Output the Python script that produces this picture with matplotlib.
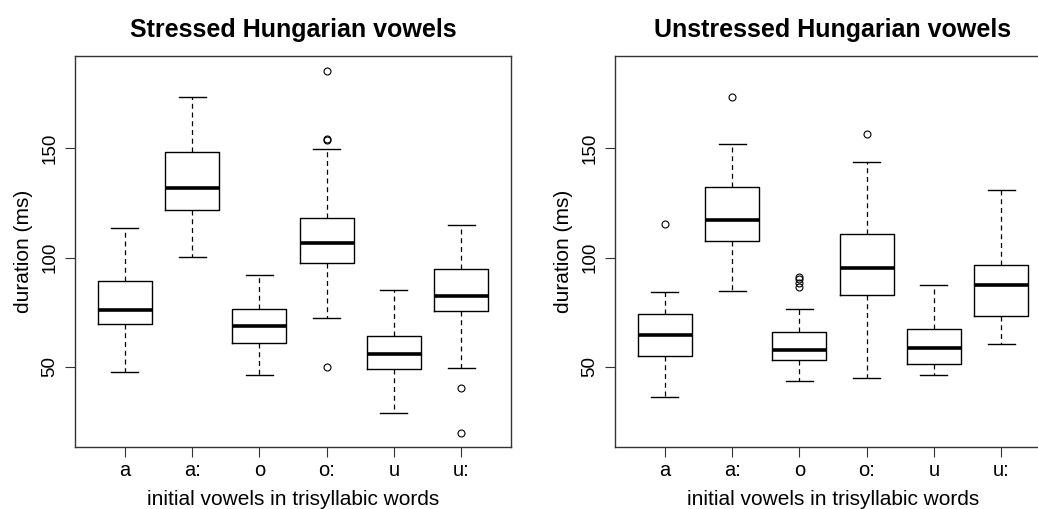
import matplotlib
matplotlib.use("Agg")
import matplotlib.pyplot as plt

plt.rcParams['font.family'] = ['Liberation Sans', 'DejaVu Sans']

vowels = ['a', 'a:', 'o', 'o:', 'u', 'u:']

# stressed: whislo, q1, median, q3, whishi
st_lo  = [47.4, 100.1, 46.0, 72.3, 28.6, 49.2]
st_q1  = [69.5, 121.8, 61.0, 97.6, 48.8, 75.6]
st_med = [76.1, 131.8, 68.6, 106.5, 55.6, 82.2]
st_q3  = [89.1, 148.3, 76.6, 118.2, 64.0, 94.9]
st_hi  = [113.7, 173.7, 92.1, 149.5, 85.3, 114.9]
st_out = [[], [], [], [185.3, 154.5, 154.0, 50.0], [], [40.4, 19.8]]

# unstressed
un_lo  = [36.3, 84.8, 43.3, 44.7, 46.3, 60.5]
un_q1  = [54.9, 107.4, 52.9, 82.7, 51.4, 73.2]
un_med = [64.4, 117.3, 57.6, 95.0, 58.4, 87.6]
un_q3  = [74.3, 132.4, 66.0, 110.6, 67.3, 96.4]
un_hi  = [84.4, 152.1, 76.4, 143.6, 87.3, 130.9]
un_out = [[115.3], [173.5], [91.2, 90.3, 88.2, 86.3], [156.7], [], []]


def make_stats(lo, q1, med, q3, hi, out):
    stats = []
    for i in range(len(vowels)):
        stats.append(dict(whislo=lo[i], q1=q1[i], med=med[i], q3=q3[i],
                          whishi=hi[i], fliers=out[i], label=vowels[i]))
    return stats


def draw(ax, stats, title):
    ax.bxp(stats, positions=range(1, 7), widths=0.8,
           boxprops=dict(color='black', linewidth=1.0),
           medianprops=dict(color='black', linewidth=2.6, solid_capstyle='butt'),
           whiskerprops=dict(color='black', linewidth=0.9, linestyle=(0, (4, 3))),
           capprops=dict(color='black', linewidth=1.0),
           flierprops=dict(marker='o', markersize=5, markerfacecolor='none',
                           markeredgecolor='black', markeredgewidth=0.8))
    ax.set_xlim(0.26, 6.74)
    ax.set_ylim(13.2, 192.3)
    ax.set_xticks(range(1, 7))
    ax.set_xticklabels(vowels, fontsize=14.5)
    ax.set_yticks([50, 100, 150])
    ax.set_yticklabels(['50', '100', '150'], fontsize=13.5, rotation=90,
                       va='center', ha='right')
    ax.tick_params(axis='both', length=7, width=0.8, color='#333333')
    ax.tick_params(axis='y', pad=5)
    ax.tick_params(axis='x', pad=3)
    for s in ax.spines.values():
        s.set_color('#333333')
        s.set_linewidth(1.0)
    ax.set_title(title, fontsize=18, fontweight='bold', pad=14)
    ax.set_xlabel('initial vowels in trisyllabic words', fontsize=15, labelpad=7)
    ax.set_ylabel('duration (ms)', fontsize=15, labelpad=6)


fig = plt.figure(figsize=(10.38, 5.09), dpi=100)
ax1 = fig.add_axes([75 / 1038, 62 / 509, 436 / 1038, 391 / 509])
ax2 = fig.add_axes([615 / 1038, 62 / 509, 436 / 1038, 391 / 509])

draw(ax1, make_stats(st_lo, st_q1, st_med, st_q3, st_hi, st_out), 'Stressed Hungarian vowels')
draw(ax2, make_stats(un_lo, un_q1, un_med, un_q3, un_hi, un_out), 'Unstressed Hungarian vowels')

fig.savefig('out.png', dpi=100)
